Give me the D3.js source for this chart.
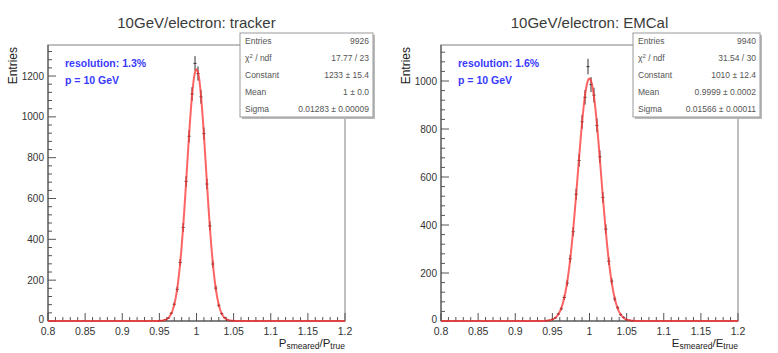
<!DOCTYPE html>
<html><head><meta charset="utf-8">
<script src="https://cdn.jsdelivr.net/npm/d3@7"></script>
<style>
html,body{margin:0;padding:0;background:#fff;}
svg{display:block;font-family:"Liberation Sans",Arial,Helvetica,sans-serif;}
</style></head>
<body>
<svg id="c" width="778" height="353"></svg>
<script>
// ---------------- data ----------------
const titles = ["10GeV/electron: tracker", "10GeV/electron: EMCal"];
const xTickValues = [0.8, 0.85, 0.9, 0.95, 1, 1.05, 1.1, 1.15, 1.2];
const xTickLabels = ["0.8", "0.85", "0.9", "0.95", "1", "1.05", "1.1", "1.15", "1.2"];
const yTicksTracker = [0, 200, 400, 600, 800, 1000, 1200];
const yTicksEMCal = [0, 200, 400, 600, 800, 1000];
const yMaxTracker = 1352;
const yMaxEMCal = 1150;
const binWidth = 0.004;

const trackerCenters = [0.950,0.954,0.958,0.962,0.966,0.970,0.974,0.978,0.982,0.986,0.990,0.994,0.998,
  1.002,1.006,1.010,1.014,1.018,1.022,1.026,1.030,1.034,1.038,1.042,1.046,1.050];
const trackerCounts = [1,2,7,14,38,82,155,287,458,684,905,1112,1262,
  1212,1098,918,671,466,279,161,77,36,16,5,2,1];

const emcalCenters = [0.942,0.946,0.950,0.954,0.958,0.962,0.966,0.970,0.974,0.978,0.982,0.986,0.990,0.994,0.998,
  1.002,1.006,1.010,1.014,1.018,1.022,1.026,1.030,1.034,1.038,1.042,1.046,1.050,1.054,1.058];
const emcalCounts = [1,3,7,13,29,51,98,158,259,372,528,669,830,932,1060,
  985,941,815,684,515,383,249,166,92,55,26,15,5,3,1];

// fit parameters (from stats boxes)
const trackerFit = {constant: 1233, mean: 1.0, sigma: 0.01283};
const emcalFit = {constant: 1010, mean: 0.9999, sigma: 0.01566};

const statsTracker = [["Entries","9926"],["chi","17.77 / 23"],["Constant","1233 \u00b1 15.4"],["Mean","1 \u00b1 0.0"],["Sigma","0.01283 \u00b1 0.00009"]];
const statsEMCal = [["Entries","9940"],["chi","31.54 / 30"],["Constant","1010 \u00b1 12.4"],["Mean","0.9999 \u00b1 0.0002"],["Sigma","0.01566 \u00b1 0.00011"]];

const resolutionTexts = ["resolution: 1.3%", "resolution: 1.6%"];
const momentumText = "p = 10 GeV";
const xTitleLetters = ["P", "E"];

// ---------------- drawing ----------------
const svg = d3.select("#c");
const panels = [
  {x0:48, x1:345, top:45, bottom:321, title:titles[0], yTicks:yTicksTracker, yMax:yMaxTracker,
   centers:trackerCenters, counts:trackerCounts, fit:trackerFit, stats:statsTracker, box:[240,33,373,117],
   res:resolutionTexts[0], letter:xTitleLetters[0]},
  {x0:441, x1:738, top:45, bottom:321, title:titles[1], yTicks:yTicksEMCal, yMax:yMaxEMCal,
   centers:emcalCenters, counts:emcalCounts, fit:emcalFit, stats:statsEMCal, box:[633,33,760,117],
   res:resolutionTexts[1], letter:xTitleLetters[1]}
];

panels.forEach(p => {
  const g = svg.append("g");
  const x = d3.scaleLinear().domain([0.8, 1.2]).range([p.x0, p.x1]);
  const y = d3.scaleLinear().domain([0, p.yMax]).range([p.bottom, p.top]);

  // title
  g.append("text").attr("x", (p.x0 + p.x1) / 2).attr("y", 28).attr("text-anchor", "middle")
    .attr("font-size", 15).attr("fill", "#3a3a3a").text(p.title);

  // frame
  g.append("rect").attr("x", p.x0).attr("y", p.top).attr("width", p.x1 - p.x0).attr("height", p.bottom - p.top)
    .attr("fill", "none").attr("stroke", "#aaa").attr("stroke-width", 1.5);

  // x axis ticks (inward)
  const xMinor = d3.range(0, 41).map(i => 0.8 + i * 0.01);
  g.append("g").selectAll("line").data(xMinor).join("line")
    .attr("x1", d => x(d)).attr("x2", d => x(d))
    .attr("y1", p.bottom).attr("y2", (d, i) => p.bottom - (i % 5 === 0 ? 8 : 4))
    .attr("stroke", "#555").attr("stroke-width", 1);
  g.append("g").selectAll("text").data(xTickValues).join("text")
    .attr("x", d => x(d)).attr("y", p.bottom + 13.5).attr("text-anchor", "middle")
    .attr("font-size", 10.5).attr("fill", "#333").text((d, i) => xTickLabels[i]);

  // y axis ticks
  const yStep = 40;
  const yMinor = d3.range(0, Math.floor(p.yMax / yStep) + 1).map(i => i * yStep);
  g.append("g").selectAll("line").data(yMinor).join("line")
    .attr("x1", p.x0).attr("x2", (d) => p.x0 + (d % 200 === 0 ? 8 : 4))
    .attr("y1", d => y(d)).attr("y2", d => y(d))
    .attr("stroke", "#555").attr("stroke-width", 1);
  g.append("g").selectAll("text").data(p.yTicks).join("text")
    .attr("x", p.x0 - 4).attr("y", d => y(d) + (d === 0 ? 2 : 3.5)).attr("text-anchor", "end")
    .attr("font-size", 10).attr("fill", "#333").text(d => d);

  // axis lines
  g.append("line").attr("x1", p.x0).attr("x2", p.x0).attr("y1", p.top).attr("y2", p.bottom)
    .attr("stroke", "#444").attr("stroke-width", 1);
  g.append("line").attr("x1", p.x0).attr("x2", p.x1).attr("y1", p.bottom).attr("y2", p.bottom)
    .attr("stroke", "#444").attr("stroke-width", 1);

  // y title
  g.append("text").attr("transform", `translate(${p.x0 - 31},${p.top + 2}) rotate(-90)`)
    .attr("text-anchor", "end").attr("font-size", 12).attr("fill", "#222").text("Entries");

  // x title
  const xt = g.append("text").attr("x", p.x1).attr("y", 346.5).attr("text-anchor", "end")
    .attr("font-size", 11.5).attr("fill", "#222");
  xt.append("tspan").text(p.letter);
  xt.append("tspan").attr("font-size", 8.5).attr("dy", 2.5).text("smeared");
  xt.append("tspan").attr("dy", -2.5).text("/" + p.letter);
  xt.append("tspan").attr("font-size", 8.5).attr("dy", 2.5).text("true");

  // histogram points with error bars
  const hg = g.append("g").attr("stroke", "#333").attr("stroke-width", 1);
  p.centers.forEach((c, i) => {
    const n = p.counts[i];
    const e = Math.sqrt(n);
    hg.append("line").attr("x1", x(c - binWidth / 2)).attr("x2", x(c + binWidth / 2))
      .attr("y1", y(n)).attr("y2", y(n));
    hg.append("line").attr("x1", x(c)).attr("x2", x(c))
      .attr("y1", y(n - e)).attr("y2", y(n + e));
  });

  // fit curve
  const f = p.fit;
  const xs = d3.range(0.8, 1.2001, 0.0005);
  const line = d3.line().x(d => x(d)).y(d => y(f.constant * Math.exp(-0.5 * Math.pow((d - f.mean) / f.sigma, 2))));
  g.append("path").datum(xs).attr("d", line).attr("fill", "none")
    .attr("stroke", "#ff3030").attr("stroke-opacity", 0.75).attr("stroke-width", 2);

  // resolution text
  g.append("text").attr("x", p.x0 + 17).attr("y", 67).attr("font-size", 10.5).attr("font-weight", "bold")
    .attr("fill", "#3a3aff").text(p.res);
  g.append("text").attr("x", p.x0 + 17).attr("y", 84).attr("font-size", 10.5).attr("font-weight", "bold")
    .attr("fill", "#3a3aff").text(momentumText);

  // stats box
  const [bx0, by0, bx1, by1] = p.box;
  g.append("rect").attr("x", bx0 + 2).attr("y", by0 + 2).attr("width", bx1 - bx0).attr("height", by1 - by0)
    .attr("fill", "#bbb");
  g.append("rect").attr("x", bx0).attr("y", by0).attr("width", bx1 - bx0).attr("height", by1 - by0)
    .attr("fill", "#fff").attr("stroke", "#999").attr("stroke-width", 1);
  const rowH = (by1 - by0) / p.stats.length;
  p.stats.forEach((r, i) => {
    const ty = by0 + rowH * (i + 0.5) + 3;
    const lt = g.append("text").attr("x", bx0 + 5).attr("y", ty).attr("font-size", 8.5).attr("fill", "#555");
    if (r[0] === "chi") {
      lt.append("tspan").text("\u03c7");
      lt.append("tspan").attr("font-size", 6).attr("dy", -3).text("2");
      lt.append("tspan").attr("dy", 3).text(" / ndf");
    } else lt.text(r[0]);
    g.append("text").attr("x", bx1 - 4).attr("y", ty).attr("text-anchor", "end")
      .attr("font-size", 8.5).attr("fill", "#555").text(r[1]);
  });
});
</script>
</body></html>
